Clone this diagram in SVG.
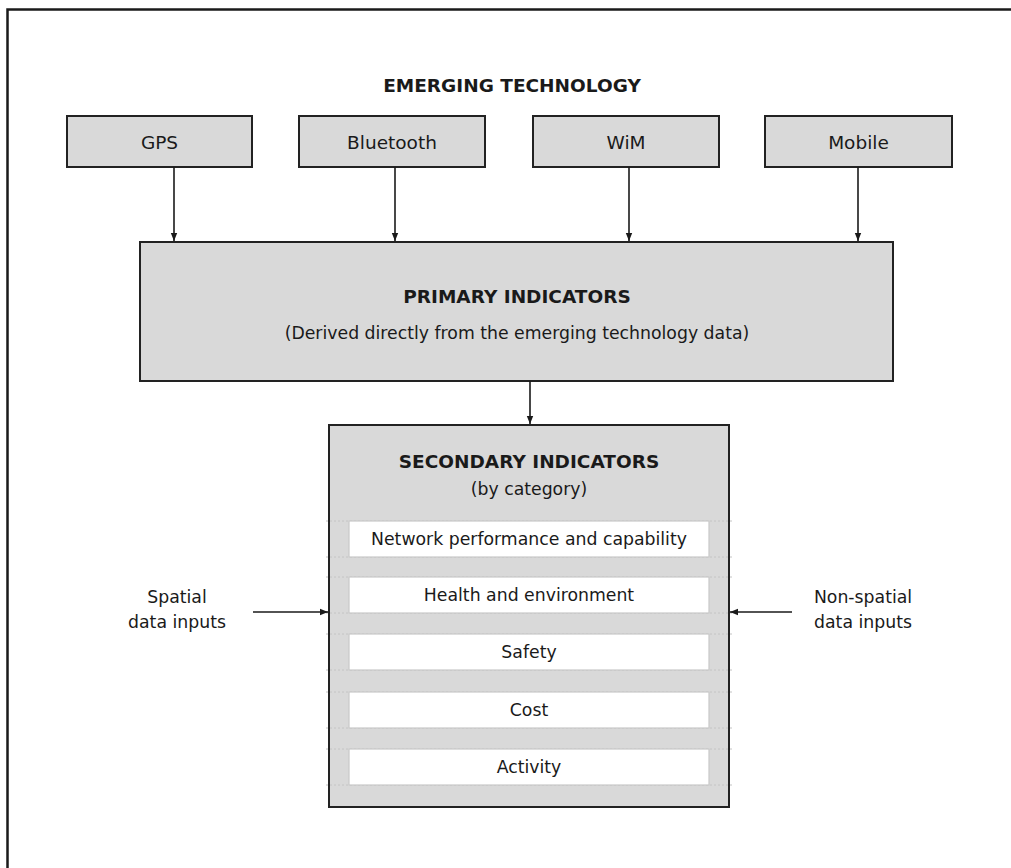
<svg xmlns="http://www.w3.org/2000/svg" width="1011" height="868" viewBox="0 0 1011 868">
  <defs>
    <marker id="arrow" markerUnits="userSpaceOnUse" markerWidth="8" markerHeight="8" viewBox="0 0 8 8" refX="8" refY="4" orient="auto">
      <path d="M0,0.8 L8,4 L0,7.2 Z" fill="#1a1a1a"/>
    </marker>
    <style>
      text { font-family: "DejaVu Sans", "Liberation Sans", sans-serif; fill: #1a1a1a; text-anchor: middle; }
      .box { fill: #d9d9d9; stroke: #222; stroke-width: 2; }
      .cat { fill: #ffffff; stroke: #c9c9c9; stroke-width: 1.2; }
      .guide { stroke: #c4c4c4; stroke-width: 1; stroke-dasharray: 2 2; fill: none; }
      .tech { font-size: 18.5px; }
      .title { font-size: 18.5px; font-weight: bold; }
      .body { font-size: 17.3px; }
      .conn { stroke: #1a1a1a; stroke-width: 1.6; fill: none; marker-end: url(#arrow); }
      .frame { stroke: #1a1a1a; stroke-width: 2.5; fill: none; }
    </style>
  </defs>

  <rect width="1011" height="868" fill="#ffffff"/>

  <!-- outer frame -->
  <path class="frame" d="M7.5,868 V9.5 H1011"/>

  <text class="title" x="512" y="92">EMERGING TECHNOLOGY</text>

  <!-- technology sources -->
  <g id="gps">
    <rect class="box" x="67" y="116" width="185" height="51"/>
    <text class="tech" x="159.5" y="149">GPS</text>
  </g>
  <g id="bluetooth">
    <rect class="box" x="299" y="116" width="186" height="51"/>
    <text class="tech" x="392" y="149">Bluetooth</text>
  </g>
  <g id="wim">
    <rect class="box" x="533" y="116" width="186" height="51"/>
    <text class="tech" x="626" y="149">WiM</text>
  </g>
  <g id="mobile">
    <rect class="box" x="765" y="116" width="187" height="51"/>
    <text class="tech" x="858.5" y="149">Mobile</text>
  </g>

  <!-- primary indicators -->
  <g id="primary">
    <rect class="box" x="140" y="242" width="753" height="139"/>
    <text class="title" x="517" y="303">PRIMARY INDICATORS</text>
    <text class="body" x="517" y="339">(Derived directly from the emerging technology data)</text>
  </g>

  <!-- secondary indicators with categories -->
  <g id="secondary">
    <rect class="box" x="329" y="425" width="400" height="382"/>
    <text class="title" x="529" y="468">SECONDARY INDICATORS</text>
    <text class="body" x="529" y="495">(by category)</text>
    <g id="category-guides">
      <path class="guide" d="M326,521 H732 M326,557 H732 M326,577 H732 M326,613 H732 M326,634 H732 M326,670 H732 M326,692 H732 M326,728 H732 M326,749 H732 M326,785 H732"/>
    </g>
    <g id="cat-network">
      <rect class="cat" x="349" y="521" width="360" height="36"/>
      <text class="body" x="529" y="545">Network performance and capability</text>
    </g>
    <g id="cat-health">
      <rect class="cat" x="349" y="577" width="360" height="36"/>
      <text class="body" x="529" y="601">Health and environment</text>
    </g>
    <g id="cat-safety">
      <rect class="cat" x="349" y="634" width="360" height="36"/>
      <text class="body" x="529" y="658">Safety</text>
    </g>
    <g id="cat-cost">
      <rect class="cat" x="349" y="692" width="360" height="36"/>
      <text class="body" x="529" y="716">Cost</text>
    </g>
    <g id="cat-activity">
      <rect class="cat" x="349" y="749" width="360" height="36"/>
      <text class="body" x="529" y="773">Activity</text>
    </g>
  </g>

  <!-- side inputs -->
  <g id="spatial-inputs">
    <text class="body" x="177" y="603">Spatial</text>
    <text class="body" x="177" y="628">data inputs</text>
  </g>
  <g id="nonspatial-inputs">
    <text class="body" x="863" y="603">Non-spatial</text>
    <text class="body" x="863" y="628">data inputs</text>
  </g>

  <!-- connectors -->
  <g id="connectors">
    <line class="conn" x1="174" y1="167" x2="174" y2="241"/>
    <line class="conn" x1="395" y1="167" x2="395" y2="241"/>
    <line class="conn" x1="629" y1="167" x2="629" y2="241"/>
    <line class="conn" x1="858" y1="167" x2="858" y2="241"/>
    <line class="conn" x1="530" y1="381" x2="530" y2="424"/>
    <line class="conn" x1="253" y1="612" x2="328" y2="612"/>
    <line class="conn" x1="792" y1="612" x2="730" y2="612"/>
  </g>
</svg>
